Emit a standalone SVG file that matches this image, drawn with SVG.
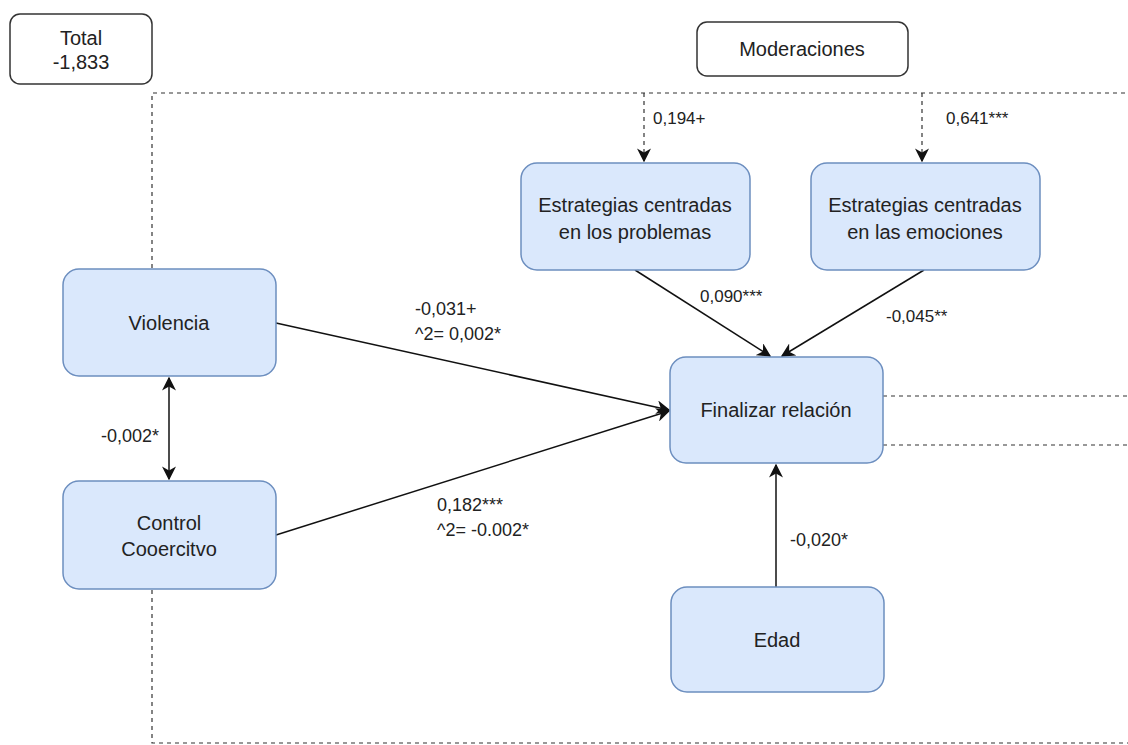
<svg xmlns="http://www.w3.org/2000/svg" width="1128" height="745" viewBox="0 0 1128 745">
<style>
.node{fill:#dae8fc;stroke:#6c8ebf;stroke-width:1.5}
.plain{fill:#fff;stroke:#333;stroke-width:1.5}
text{font-family:"Liberation Sans",Arial,sans-serif;fill:#222}
.t{font-size:20px;text-anchor:middle}
.l{font-size:18px}
.s{font-size:17px}
.edge{stroke:#111;stroke-width:1.5;fill:none}
.dash{stroke:#333;stroke-width:1.2;fill:none;stroke-dasharray:4 4}
</style>
<defs>
<marker id="ah2" viewBox="0 0 10 10" refX="9" refY="5" markerWidth="14" markerHeight="14" orient="auto-start-reverse" markerUnits="userSpaceOnUse">
<path d="M0,0 L10,5 L0,10 L3,5 Z" fill="#111"/>
</marker>
</defs>
<g id="frame">
<path class="dash" d="M152,268 V93 H1128"/>
<path class="dash" d="M152,590 V743 H1128"/>
<path class="dash" d="M883,396 H1128"/>
<path class="dash" d="M883,445 H1128"/>
</g>
<g id="connectors">
<path class="dash" d="M644,93 V161" marker-end="url(#ah2)"/>
<path class="dash" d="M922,93 V161" marker-end="url(#ah2)"/>
<path class="edge" d="M276,323 L669,410" marker-end="url(#ah2)"/>
<path class="edge" d="M276,535 L669,411" marker-end="url(#ah2)"/>
<path class="edge" d="M635,270 L770,356" marker-end="url(#ah2)"/>
<path class="edge" d="M924,270 L782,356" marker-end="url(#ah2)"/>
<path class="edge" d="M776,587 L776,465" marker-end="url(#ah2)"/>
<path class="edge" d="M169,378 L169,479" marker-start="url(#ah2)" marker-end="url(#ah2)"/>
<text class="s" x="653" y="124">0,194+</text>
<text class="s" x="946" y="124">0,641***</text>
<text class="l" x="415" y="315">-0,031+</text>
<text class="l" x="415" y="340">^2= 0,002*</text>
<text class="l" x="437" y="511">0,182***</text>
<text class="l" x="437" y="536">^2= -0.002*</text>
<text class="s" x="700" y="302">0,090***</text>
<text class="s" x="886" y="322">-0,045**</text>
<text class="l" x="101" y="442">-0,002*</text>
<text class="l" x="790" y="546">-0,020*</text>
</g>
<g id="total">
<rect class="plain" x="10" y="14" width="142" height="70" rx="10"/>
<text class="t" x="81" y="45">Total</text>
<text class="t" x="81" y="69">-1,833</text>
</g>
<g id="moderaciones">
<rect class="plain" x="697" y="22" width="211" height="54" rx="10"/>
<text class="t" x="802" y="56">Moderaciones</text>
</g>
<g id="problemas">
<rect class="node" x="521" y="163" width="229" height="107" rx="16"/>
<text class="t" x="635" y="212">Estrategias centradas</text>
<text class="t" x="635" y="239">en los problemas</text>
</g>
<g id="emociones">
<rect class="node" x="811" y="163" width="229" height="107" rx="16"/>
<text class="t" x="925" y="212">Estrategias centradas</text>
<text class="t" x="925" y="239">en las emociones</text>
</g>
<g id="violencia">
<rect class="node" x="63" y="269" width="213" height="107" rx="16"/>
<text class="t" x="169" y="330">Violencia</text>
</g>
<g id="control">
<rect class="node" x="63" y="481" width="213" height="108" rx="16"/>
<text class="t" x="169" y="530">Control</text>
<text class="t" x="169" y="556">Cooercitvo</text>
</g>
<g id="finalizar">
<rect class="node" x="670" y="357" width="213" height="106" rx="16"/>
<text class="t" x="776" y="417">Finalizar relación</text>
</g>
<g id="edad">
<rect class="node" x="671" y="587" width="213" height="105" rx="16"/>
<text class="t" x="777" y="647">Edad</text>
</g>
</svg>
